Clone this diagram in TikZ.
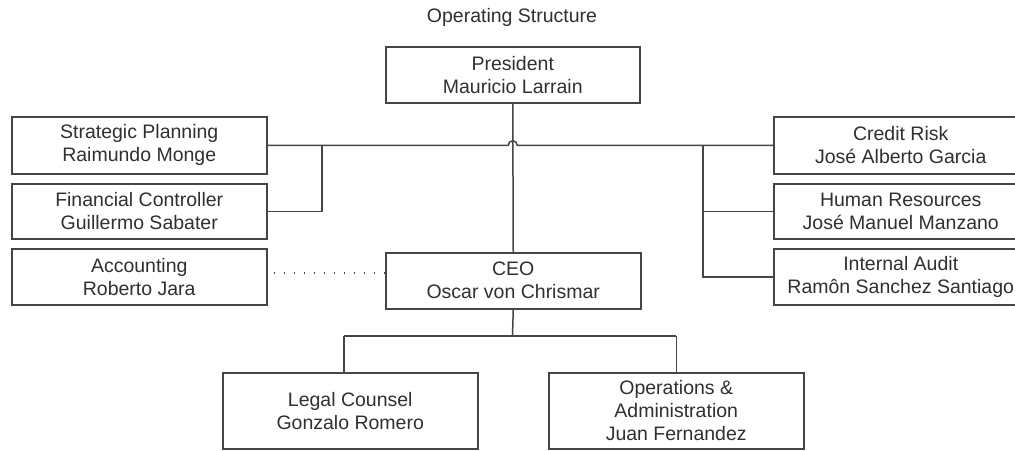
\documentclass[tikz,border=0pt]{standalone}
\usepackage{fontspec}
\setmainfont{Liberation Sans}
\definecolor{ln}{HTML}{454545}
\definecolor{tx}{HTML}{303030}
\begin{document}
\begin{tikzpicture}[x=1pt,y=-1pt,
  lbl/.style={text=tx, font=\fontsize{19.5}{23}\selectfont},
  box/.style={lbl, draw=ln, line width=1.5pt, align=center, inner sep=0pt, anchor=north west},
  conn/.style={draw=ln, line width=1.5pt},
  dotline/.style={draw=ln, line width=1.6pt, dash pattern=on 1.6pt off 8.4pt}]
\useasboundingbox (0,0) rectangle (1015,450);
\clip (0,0) rectangle (1015,450);
\fill[white] (0,0) rectangle (1015,450);
\node[lbl] (title) at (512,17) {Operating Structure};
\node[box, minimum width=254pt, minimum height=56pt] (pres) at (385,46) {President\\Mauricio Larrain};
\node[box, minimum width=255pt, minimum height=57pt] (sp) at (11,116) {Strategic Planning\\Raimundo Monge};
\node[box, minimum width=255pt, minimum height=55pt] (fc) at (11,183) {Financial Controller\\Guillermo Sabater};
\node[box, minimum width=255pt, minimum height=56pt] (acc) at (11,248) {Accounting\\Roberto Jara};
\node[box, minimum width=254pt, minimum height=57pt] (cr) at (773,116) {Credit Risk\\José Alberto Garcia};
\node[box, minimum width=254pt, minimum height=55pt] (hr) at (773,183) {Human Resources\\José Manuel Manzano};
\node[box, minimum width=254pt, minimum height=56pt] (ia) at (773,248) {Internal Audit\\Ramôn Sanchez Santiago};
\node[box, minimum width=255pt, minimum height=56pt] (ceo) at (385,252) {CEO\\Oscar von Chrismar};
\node[box, minimum width=255pt, minimum height=76pt] (legal) at (222,372) {Legal Counsel\\Gonzalo Romero};
\node[box, minimum width=255pt, minimum height=76pt] (ops) at (548,372) {Operations \&\\Administration\\Juan Fernandez};
% main horizontal with hop
\draw[conn] (sp.east) -- ([xshift=-4.5pt]pres.south |- sp.east) arc[start angle=180, end angle=0, radius=4.5pt] -- (cr.west);
\draw[conn] (pres.south) -- (ceo.north);
% left branch
\coordinate (lj) at (322,144.5);
\draw[conn] (fc.east) -| (lj);
% right branch
\coordinate (rj) at (703,144.5);
\draw[conn] (rj) |- (ia.west);
\draw[conn] (hr.west) -- (hr.west -| rj);
% CEO to bottom
\coordinate (bus) at (512.5,336);
\coordinate (lt) at ([xshift=-6.5pt]legal.north);
\draw[conn] (ceo.south) -- (bus);
\draw[conn] (lt |- bus) -- (ops.north |- bus);
\draw[conn] (lt |- bus) -- (lt);
\draw[conn] (ops.north |- bus) -- (ops.north);
% dotted
\coordinate (d1) at ([yshift=4pt]acc.east);
\draw[dotline] ([xshift=6pt]d1) -- (d1 -| ceo.west);
\end{tikzpicture}
\end{document}
